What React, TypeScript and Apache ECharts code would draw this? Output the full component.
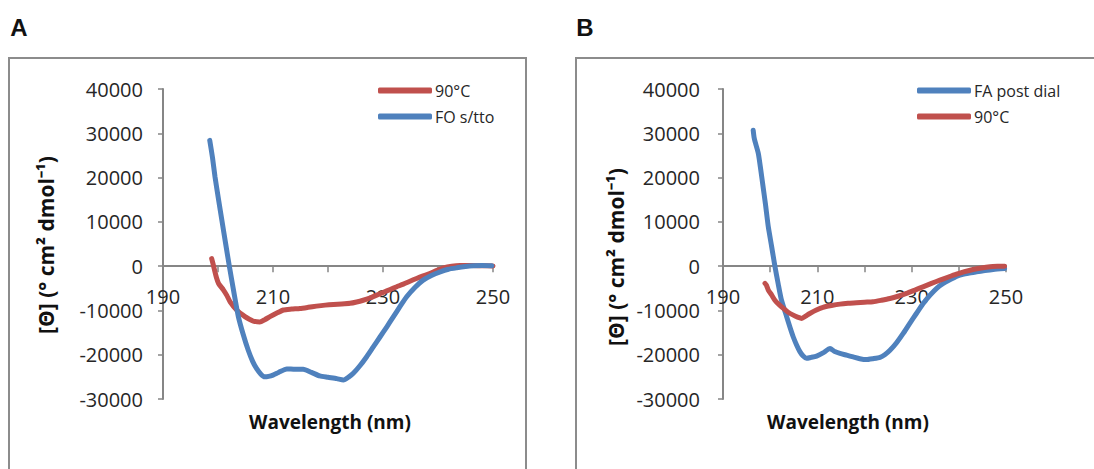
import React, { useEffect, useRef } from "react";
import * as echarts from "echarts";

// ---- axes ----
const xMin = 190;
const xMax = 250;
const xStep = 10;
const xLabeledTicks = [190, 210, 230, 250];
const yMin = -30000;
const yMax = 40000;
const yStep = 10000;

const panelLabels = ["A", "B"];
const xTitle = "Wavelength (nm)";
const yTitle = "[Θ] (° cm² dmol⁻¹)";

// ---- series names ----
const namesA = ["90°C", "FO s/tto"];
const namesB = ["FA post dial", "90°C"];

// ---- Panel A: FO s/tto (blue) ----
const aFoNm = [198.5, 199.0, 199.45, 200.1, 200.7, 201.4, 202.06, 202.9, 203.7, 204.6, 205.5, 206.3, 207.0, 207.8, 208.5, 209.2, 210.0, 211.0, 212.5, 214.0, 215.5, 217.0, 218.5, 220.0, 221.6, 222.8, 223.8, 224.6, 225.8, 227.0, 228.2, 229.45, 230.7, 231.9, 233.1, 234.3, 235.8, 237.3, 238.8, 240.4, 241.9, 243.4, 245.0, 246.4, 248.0, 249.8];
const aFoVal = [28400, 24500, 20200, 15000, 10400, 5000, 0, -6000, -11400, -15500, -19000, -21500, -23100, -24400, -25000, -24900, -24600, -24000, -23200, -23300, -23300, -24000, -24800, -25100, -25400, -25700, -25000, -24200, -22500, -20500, -18300, -16000, -13700, -11400, -9100, -6900, -4800, -3160, -2100, -1280, -700, -380, -100, 70, 150, 100];

// ---- Panel A: 90°C (red) ----
const a90Nm = [198.85, 199.1, 199.3, 199.7, 200.1, 201.0, 201.6, 202.2, 203.4, 204.9, 205.7, 206.4, 207.6, 208.5, 209.45, 210.7, 211.9, 213.4, 214.9, 216.4, 217.9, 219.5, 221.0, 222.5, 224.0, 225.2, 226.4, 227.6, 228.85, 230.1, 231.3, 232.5, 233.7, 234.9, 236.1, 237.3, 238.5, 239.7, 241.0, 242.5, 244.0, 246.0, 248.0, 250.0];
const a90Val = [1700, 500, -530, -2500, -3900, -5400, -6600, -8050, -9900, -11400, -12000, -12400, -12600, -12100, -11400, -10600, -9900, -9700, -9550, -9300, -9030, -8800, -8650, -8550, -8400, -8100, -7700, -7200, -6550, -5900, -5260, -4650, -4060, -3400, -2780, -2200, -1650, -1000, -380, 0, 150, 150, 100, 50];

// ---- Panel B: FA post dial (blue) ----
const bFaNm = [196.4, 196.6, 196.8, 197.5, 198.0, 198.5, 199.0, 199.6, 200.3, 201.0, 201.7, 202.4, 203.5, 204.2, 204.9, 205.6, 206.3, 207.0, 207.7, 208.7, 209.85, 211.2, 212.7, 213.7, 214.8, 216.2, 217.6, 219.0, 220.4, 221.8, 223.3, 224.3, 225.4, 226.8, 228.2, 229.6, 231.0, 232.4, 233.9, 235.3, 236.7, 238.4, 240.2, 242.0, 243.75, 245.5, 247.3, 249.7];
const bFaVal = [30700, 29000, 28100, 25400, 21800, 17900, 14000, 8900, 4500, 0, -4000, -7700, -11400, -13800, -16000, -17800, -19300, -20300, -20800, -20600, -20300, -19600, -18600, -19300, -19700, -20100, -20500, -20900, -21100, -20900, -20600, -20000, -19000, -17300, -15200, -12900, -10700, -8500, -6550, -5000, -3900, -2900, -2030, -1600, -1290, -1000, -750, -530];

// ---- Panel B: 90°C (red) ----
const b90Nm = [198.9, 199.2, 199.6, 200.3, 201.0, 201.9, 202.8, 203.8, 204.9, 205.8, 206.7, 207.5, 208.4, 209.8, 211.2, 213.0, 214.8, 216.5, 218.3, 220.0, 221.8, 223.6, 225.4, 227.1, 228.9, 230.7, 232.4, 234.2, 236.0, 237.8, 239.5, 241.2, 243.0, 244.8, 246.6, 248.2, 249.7];
const b90Val = [-3900, -4300, -5400, -6500, -7700, -8700, -9550, -10400, -11060, -11500, -11800, -11300, -10700, -9900, -9300, -8900, -8580, -8400, -8280, -8150, -8050, -7700, -7300, -6800, -6160, -5400, -4670, -3900, -3160, -2450, -1810, -1250, -750, -400, -150, -50, 0];

const RED = "#C0504D";
const BLUE = "#4F81BD";
const AXIS_GRAY = "#868686";
const FONT = "Open Sans";

const GRID_TOP = 89;
const GRID_H = 310;

const pairs = (xs: number[], ys: number[]) => xs.map((x, i) => [x, ys[i]]);

export default function App() {
  const ref = useRef<HTMLDivElement>(null);

  useEffect(() => {
    if (!ref.current) return;
    const chart = echarts.init(ref.current, null, { renderer: "svg" });

    // x axis drawn through y = 0: shift it up from the grid bottom by zero's position in the y range
    const zeroOffset = -GRID_H * (0 - yMin) / (yMax - yMin);

    const mkX = (gridIndex: number) => ({
      type: "value",
      gridIndex,
      min: xMin,
      max: xMax,
      interval: xStep,
      position: "bottom",
      offset: zeroOffset,
      axisLine: { show: true, onZero: false, lineStyle: { color: AXIS_GRAY, width: 2 } },
      axisTick: { show: true, inside: false, length: 6, lineStyle: { color: AXIS_GRAY, width: 1.5 } },
      axisLabel: {
        margin: 20,
        fontFamily: FONT,
        fontSize: 20,
        color: "#262626",
        showMinLabel: true,
        showMaxLabel: true,
        hideOverlap: false,
        formatter: (v: number) => (xLabeledTicks.includes(v) ? String(v) : ""),
      },
      splitLine: { show: false },
    });
    const mkY = (gridIndex: number, margin: number) => ({
      type: "value",
      gridIndex,
      min: yMin,
      max: yMax,
      interval: yStep,
      axisLine: { show: true, lineStyle: { color: AXIS_GRAY, width: 2 } },
      axisTick: { show: true, length: 5, lineStyle: { color: AXIS_GRAY, width: 1.5 } },
      axisLabel: {
        margin,
        fontFamily: FONT,
        fontSize: 20,
        color: "#262626",
        formatter: (v: number) => String(v),
      },
      splitLine: { show: false },
    });
    const mkSeries = (name: string, color: string, idx: number, xs: number[], ys: number[]) => ({
      name,
      type: "line",
      xAxisIndex: idx,
      yAxisIndex: idx,
      data: pairs(xs, ys),
      showSymbol: false,
      symbol: "none",
      smooth: 0.2,
      color,
      itemStyle: { color },
      lineStyle: { color, width: 5, cap: "round", join: "round" },
    });
    const legendBase = {
      orient: "vertical",
      top: 77,
      itemWidth: 54,
      itemHeight: 6,
      itemGap: 9,
      icon: "roundRect",
      selectedMode: false,
      textStyle: { fontFamily: FONT, fontSize: 16, color: "#262626", lineHeight: 17, padding: [0, 0, 0, -2] },
    };
    const titleStyle = { fontFamily: FONT, fontWeight: "bold", fill: "#111" };

    chart.setOption({
      animation: false,
      backgroundColor: "#ffffff",
      grid: [
        { left: 163, top: GRID_TOP, width: 330, height: GRID_H, containLabel: false },
        { left: 723, top: GRID_TOP, width: 283, height: GRID_H, containLabel: false },
      ],
      xAxis: [mkX(0), mkX(1)],
      yAxis: [mkY(0, 20), mkY(1, 23)],
      legend: [
        { ...legendBase, left: 373, data: namesA },
        { ...legendBase, left: 912, data: namesB },
      ],
      series: [
        mkSeries(namesA[0], RED, 0, a90Nm, a90Val),
        mkSeries(namesA[1], BLUE, 0, aFoNm, aFoVal),
        mkSeries(namesB[0], BLUE, 1, bFaNm, bFaVal),
        mkSeries(namesB[1], RED, 1, b90Nm, b90Val),
      ],
      graphic: [
        { type: "rect", shape: { x: 9, y: 58, width: 517, height: 430 }, style: { fill: "none", stroke: "#8c8c8c", lineWidth: 2 }, z: -1 },
        { type: "rect", shape: { x: 576, y: 58, width: 540, height: 430 }, style: { fill: "none", stroke: "#8c8c8c", lineWidth: 2 }, z: -1 },
        { type: "text", x: 19, y: 27, style: { text: panelLabels[0], fontFamily: "Liberation Sans", fontSize: 24, fontWeight: "bold", fill: "#111", align: "center", verticalAlign: "middle" } },
        { type: "text", x: 585, y: 27, style: { text: panelLabels[1], fontFamily: "Liberation Sans", fontSize: 24, fontWeight: "bold", fill: "#111", align: "center", verticalAlign: "middle" } },
        { type: "text", x: 330, y: 422, style: { text: xTitle, ...titleStyle, fontSize: 19, align: "center", verticalAlign: "middle" } },
        { type: "text", x: 848, y: 422, style: { text: xTitle, ...titleStyle, fontSize: 19, align: "center", verticalAlign: "middle" } },
        { type: "text", x: 46, y: 245, rotation: Math.PI / 2, style: { text: yTitle, ...titleStyle, fontSize: 21, align: "center", verticalAlign: "middle" } },
        { type: "text", x: 616, y: 257, rotation: Math.PI / 2, style: { text: yTitle, ...titleStyle, fontSize: 21, align: "center", verticalAlign: "middle" } },
      ],
    });

    return () => chart.dispose();
  }, []);

  return (
    <div
      ref={ref}
      style={{ position: "absolute", left: 0, top: 0, width: 1094, height: 469, background: "#fff" }}
    />
  );
}
